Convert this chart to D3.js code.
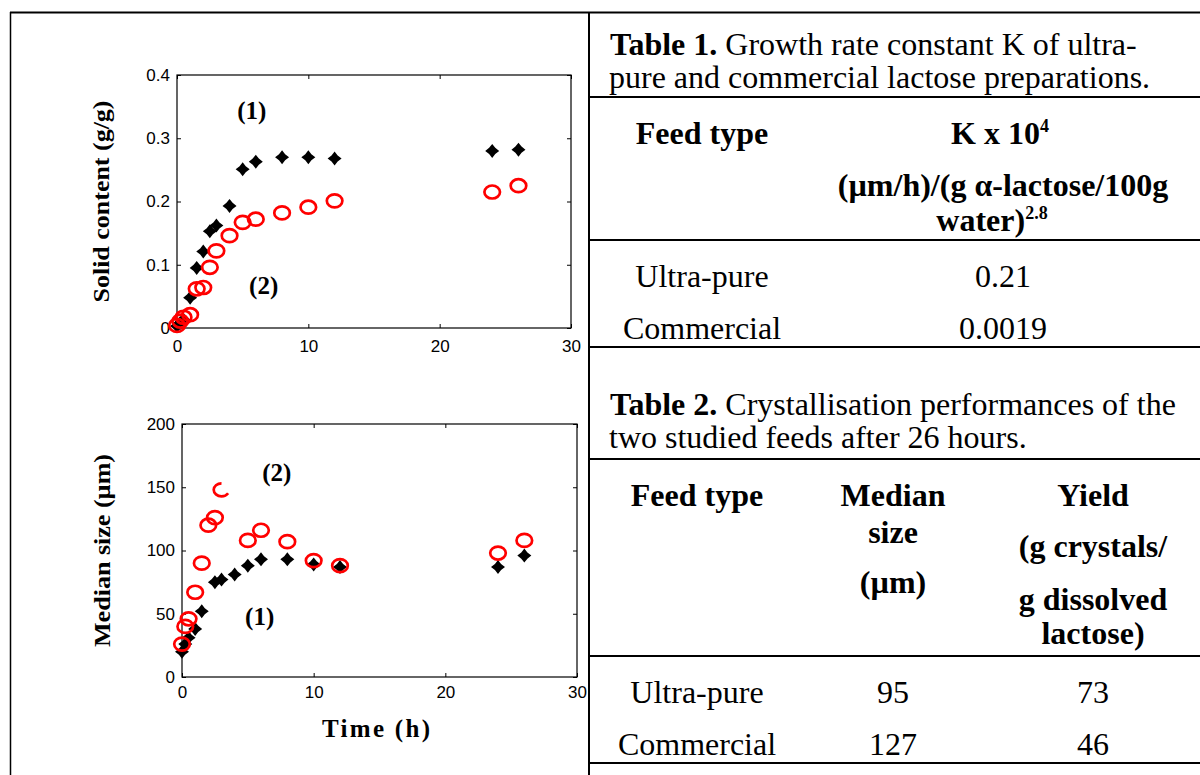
<!DOCTYPE html>
<html>
<head>
<meta charset="utf-8">
<script src="https://cdn.jsdelivr.net/npm/d3@7"></script>
<style>
  body { margin: 0; background: #fff; }
  svg { display: block; }
</style>
</head>
<body>
<svg id="fig" width="1200" height="775"></svg>
<script>
// data: (1) ultra-pure = black stars, (2) commercial = red circles
var timeSolidUltra = [0, 0.25, 0.5, 1, 1.5, 2, 2.5, 3, 4, 5, 6, 8, 10, 12, 24, 26];
var solidUltra     = [0.003, 0.008, 0.013, 0.048, 0.095, 0.121, 0.153, 0.162, 0.193, 0.251, 0.263, 0.270, 0.270, 0.268, 0.280, 0.282];
var timeSolidComm  = [0, 0.25, 0.5, 1, 1.5, 2, 2.5, 3, 4, 5, 6, 8, 10, 12, 24, 26];
var solidComm      = [0.004, 0.011, 0.017, 0.021, 0.062, 0.064, 0.096, 0.122, 0.146, 0.167, 0.172, 0.182, 0.191, 0.201, 0.215, 0.225];

var timeSizeUltra = [0, 0.25, 0.5, 1, 1.5, 2.5, 3, 4, 5, 6, 8, 10, 12, 24, 26];
var sizeUltra     = [20, 26, 31, 38, 52, 75, 77, 81, 88, 93, 93, 89, 87, 87, 96];
var timeSizeComm  = [0, 0.25, 0.5, 1, 1.5, 2, 2.5, 3, 5, 6, 8, 10, 12, 24, 26];
var sizeComm      = [26, 40, 46, 67, 90, 120, 126, 148, 108, 116, 107, 92, 88, 98, 108];

var timeTicks  = [0, 10, 20, 30];
var solidTicks = [0, 0.1, 0.2, 0.3, 0.4];
var sizeTicks  = [0, 50, 100, 150, 200];

// tables
var table1Caption = ["Table 1.", " Growth rate constant K of ultra-", "pure and commercial lactose preparations."];
var table1Rows = [["Ultra-pure", "0.21"], ["Commercial", "0.0019"]];
var table2Caption = ["Table 2.", " Crystallisation performances of the", "two studied feeds after 26 hours."];
var table2Rows = [["Ultra-pure", "95", "73"], ["Commercial", "127", "46"]];

var svg = d3.select("#fig");
var SANS = "'Liberation Sans', Arial, sans-serif",
    SERIF = "'Liberation Serif', 'Times New Roman', serif";

// frame lines
svg.append("line").attr("x1", 10).attr("x2", 1200).attr("y1", 12.5).attr("y2", 12.5)
   .attr("stroke", "#000").attr("stroke-width", 2);
svg.append("line").attr("x1", 10.5).attr("x2", 10.5).attr("y1", 12).attr("y2", 775)
   .attr("stroke", "#000").attr("stroke-width", 1.5);
svg.append("line").attr("x1", 589).attr("x2", 589).attr("y1", 12).attr("y2", 775)
   .attr("stroke", "#000").attr("stroke-width", 2);

svg.append("clipPath").attr("id", "leftClip")
   .append("rect").attr("x", 11).attr("y", 13).attr("width", 576).attr("height", 762);
var left = svg.append("g").attr("clip-path", "url(#leftClip)");

// four pointed star used by MATLAB-ish black markers
var star4 = {
  draw: function(ctx, size) {
    var r = Math.sqrt(size) / 2, ri = r * 0.62;
    for (var i = 0; i < 8; i++) {
      var a = i * Math.PI / 4 - Math.PI / 2, rr = i % 2 ? ri : r;
      if (i === 0) ctx.moveTo(rr * Math.cos(a), rr * Math.sin(a));
      else ctx.lineTo(rr * Math.cos(a), rr * Math.sin(a));
    }
    ctx.closePath();
  }
};

function drawPlot(box, yDomain, yTicks, yFmt, blackT, blackV, redT, redV, opts) {
  var g = left.append("g").attr("transform", "translate(" + box.x + "," + box.y + ")");
  var x = d3.scaleLinear().domain([0, 30]).range([0, box.w]);
  var y = d3.scaleLinear().domain(yDomain).range([box.h, 0]);

  g.append("g").attr("transform", "translate(0," + box.h + ")")
    .call(d3.axisBottom(x).tickValues(timeTicks).tickSizeInner(-4).tickSizeOuter(0).tickPadding(opts.xPad));
  g.append("g")
    .call(d3.axisLeft(y).tickValues(yTicks).tickFormat(yFmt).tickSizeInner(-4).tickSizeOuter(0).tickPadding(7));
  g.append("g").call(d3.axisTop(x).tickValues(timeTicks).tickSizeInner(-4).tickSizeOuter(0).tickFormat(""));
  g.append("g").attr("transform", "translate(" + box.w + ",0)")
    .call(d3.axisRight(y).tickValues(yTicks).tickSizeInner(-4).tickSizeOuter(0).tickFormat(""));
  g.selectAll(".domain").remove();
  g.selectAll(".tick line").attr("stroke", "#000").attr("stroke-width", 1);
  g.selectAll(".tick text").attr("font-family", SANS).attr("font-size", 17).attr("fill", "#000");
  g.append("rect").attr("width", box.w).attr("height", box.h)
    .attr("fill", "none").attr("stroke", "#000").attr("stroke-width", 1.2);

  var black = d3.zip(blackT, blackV), red = d3.zip(redT, redV);
  g.selectAll("path.ultra").data(black).enter().append("path").attr("class", "ultra")
    .attr("transform", function(d) { return "translate(" + x(d[0]) + "," + y(d[1]) + ")"; })
    .attr("d", d3.symbol(star4, 196)).attr("fill", "#000");
  g.selectAll("ellipse.comm").data(red).enter().append("ellipse").attr("class", "comm")
    .attr("cx", function(d) { return x(d[0]); }).attr("cy", function(d) { return y(d[1]); })
    .attr("rx", 7.8).attr("ry", 6.5)
    .attr("fill", "none").attr("stroke", "#ff0000").attr("stroke-width", 2.7)
    .attr("pathLength", 360)
    .attr("stroke-dasharray", function(d, i) { return i === opts.partial ? "240 120" : null; })
    .attr("stroke-dashoffset", function(d, i) { return i === opts.partial ? -30 : null; });

  // series labels
  opts.labels.forEach(function(l) {
    g.append("text").attr("x", x(l.t)).attr("y", y(l.v)).attr("text-anchor", "middle")
      .attr("font-family", SERIF).attr("font-weight", "bold").attr("font-size", 25).text(l.s);
  });

  // y title
  g.append("text").attr("transform", "translate(" + (opts.yTitleX - box.x) + "," + (box.h / 2) + ") rotate(-90)")
    .attr("text-anchor", "middle").attr("font-family", SERIF).attr("font-weight", "bold")
    .attr("font-size", 24).attr("textLength", opts.yTitleLen).attr("lengthAdjust", "spacingAndGlyphs")
    .text(opts.yTitle);
  return { g: g, x: x, y: y };
}

drawPlot({ x: 177, y: 75, w: 394, h: 253 }, [0, 0.4], solidTicks,
  function(d) { return d === 0 ? "0" : d3.format(".1f")(d); },
  timeSolidUltra, solidUltra, timeSolidComm, solidComm,
  { xPad: 12, partial: -1, yTitle: "Solid content (g/g)", yTitleX: 109, yTitleLen: 202,
    labels: [{ s: "(1)", t: 5.7, v: 0.33 }, { s: "(2)", t: 6.6, v: 0.054 }] });

drawPlot({ x: 182, y: 424, w: 395, h: 253 }, [0, 200], sizeTicks, d3.format("d"),
  timeSizeUltra, sizeUltra, timeSizeComm, sizeComm,
  { xPad: 9, partial: 7, yTitle: "Median size (\u00b5m)", yTitleX: 110, yTitleLen: 193,
    labels: [{ s: "(2)", t: 7.2, v: 155 }, { s: "(1)", t: 5.9, v: 41 }] });

// x title
left.append("text").attr("x", 376).attr("y", 737).attr("text-anchor", "middle")
  .attr("font-family", SERIF).attr("font-weight", "bold").attr("font-size", 25)
  .attr("textLength", 108).attr("lengthAdjust", "spacing").text("Time (h)");

// ---- tables ----
var FS = 32;
function txt(x, y, s, bold, anchor) {
  return svg.append("text").attr("x", x).attr("y", y).attr("text-anchor", anchor || "middle")
    .attr("font-family", SERIF).attr("font-size", FS).attr("font-weight", bold ? "bold" : "normal")
    .attr("fill", "#000").text(s);
}
function rule(y) {
  svg.append("line").attr("x1", 590).attr("x2", 1200).attr("y1", y).attr("y2", y)
    .attr("stroke", "#000").attr("stroke-width", 2);
}
function caption(y, c) {
  var t = svg.append("text").attr("x", 610).attr("y", y).attr("font-family", SERIF).attr("font-size", FS);
  t.append("tspan").attr("font-weight", "bold").text(c[0]);
  t.append("tspan").text(c[1]);
  txt(609, y + 33, c[2], false, "start");
}
function sup(t, s) {
  t.append("tspan").attr("font-size", 18).attr("dy", -12).text(s);
}

// table 1
caption(55, table1Caption);
rule(97);
txt(702, 144, "Feed type", true);
sup(txt(1000, 144, "K x 10", true), "4");
txt(1003, 196, "(\u00b5m/h)/(g \u03b1-lactose/100g", true);
sup(txt(992, 231, "water)", true), "2.8");
rule(240);
table1Rows.forEach(function(r, i) {
  txt(702, 287 + i * 52, r[0], false);
  txt(1003, 287 + i * 52, r[1], false);
});
rule(347);

// table 2
caption(415, table2Caption);
rule(459);
txt(697, 506, "Feed type", true);
txt(893, 506, "Median", true);
txt(893, 543, "size", true);
txt(893, 593, "(\u00b5m)", true);
txt(1093, 506, "Yield", true);
txt(1093, 557, "(g crystals/", true);
txt(1093, 610, "g dissolved", true);
txt(1093, 644, "lactose)", true);
rule(656);
table2Rows.forEach(function(r, i) {
  txt(697, 703 + i * 52, r[0], false);
  txt(893, 703 + i * 52, r[1], false);
  txt(1093, 703 + i * 52, r[2], false);
});
rule(763);
</script>
</body>
</html>
